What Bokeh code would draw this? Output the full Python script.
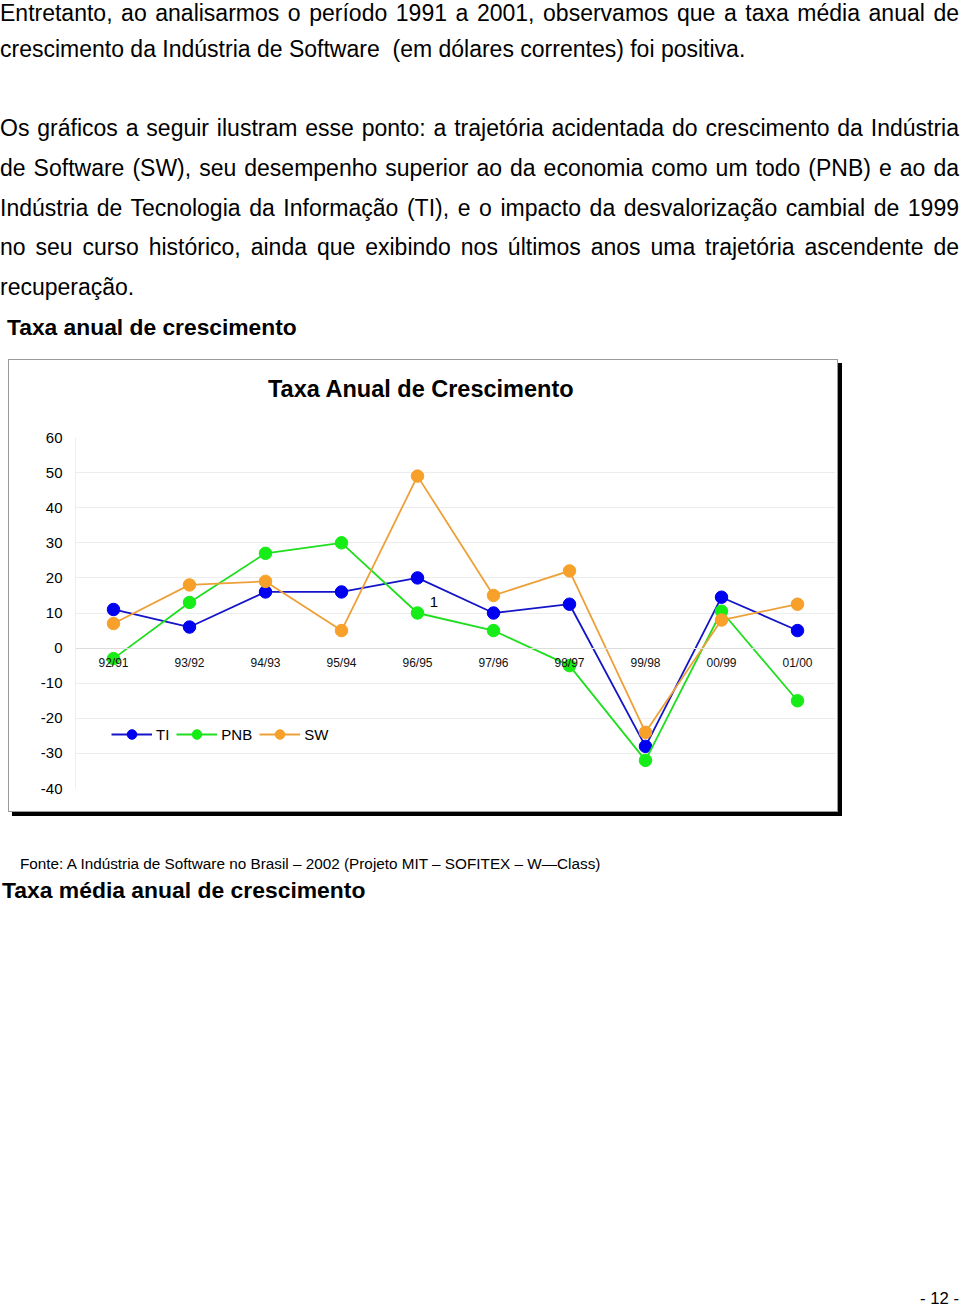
from bokeh.plotting import figure
from bokeh.models import Div, Label
from bokeh.layouts import column
from bokeh.embed import file_html
from bokeh.resources import INLINE

# ---------------- data ----------------
categories = ["92/91", "93/92", "94/93", "95/94", "96/95",
              "97/96", "98/97", "99/98", "00/99", "01/00"]
ti = [11, 6, 16, 16, 20, 10, 12.5, -28, 14.5, 5]
pnb = [-3, 13, 27, 30, 10, 5, -5, -32, 10.5, -15]
sw = [7, 18, 19, 5, 49, 15, 22, -24, 8, 12.5]
y_ticks = [-40, -30, -20, -10, 0, 10, 20, 30, 40, 50, 60]
y_tick_labels = ["-40", "-30", "-20", "-10", "0", "10", "20", "30", "40", "50", "60"]

series_names = ["TI", "PNB", "SW"]
line_colors = ["#1414c8", "#1ede1e", "#eea038"]
marker_colors = ["#0000f0", "#16ec16", "#f7a02a"]

chart_title = "Taxa Anual de Crescimento"
stray_label = "1"

para_lines = [
    ("Entretanto, ao analisarmos o período 1991 a 2001, observamos que a taxa média anual de", True),
    ("crescimento da Indústria de Software&nbsp; (em dólares correntes) foi positiva.", False),
    ("Os gráficos a seguir ilustram esse ponto: a trajetória acidentada do crescimento da Indústria", True),
    ("de Software (SW), seu desempenho superior ao da economia como um todo (PNB) e ao da", True),
    ("Indústria de Tecnologia da Informação (TI), e o impacto da desvalorização cambial de 1999", True),
    ("no seu curso histórico, ainda que exibindo nos últimos anos uma trajetória ascendente de", True),
    ("recuperação.", False),
]
para_baselines = [21.0, 57.3, 136.7, 176.4, 216.1, 255.8, 295.5]
heading1 = "Taxa anual de crescimento"
source_text = "Fonte: A Indústria de Software no Brasil – 2002 (Projeto MIT – SOFITEX – W—Class)"
heading2 = "Taxa média anual de crescimento"
page_number = "- 12 -"

FONT = "'Liberation Sans', Arial, sans-serif"


def abs_line(text, baseline, fs, left=0, width=959, justify=False, bold=False, align="left"):
    top = baseline - 0.8465 * fs
    style = (f"position:absolute;left:{left}px;top:{top:.2f}px;width:{width}px;"
             f"font-family:{FONT};font-size:{fs}px;line-height:{fs}px;color:#000;"
             f"font-weight:{'bold' if bold else 'normal'};margin:0;padding:0;")
    if justify:
        style += "text-align:justify;text-align-last:justify;"
    else:
        style += f"text-align:{align};"
    return f'<div style="{style}">{text}</div>'


def block(parts, w, h):
    return (f'<div style="position:relative;width:{w}px;height:{h}px;margin:0;padding:0;">'
            + "".join(parts) + "</div>")


# ---------------- top text ----------------
top_parts = []
for (txt, just), b in zip(para_lines, para_baselines):
    top_parts.append(abs_line(txt, b, 23, left=0, width=959, justify=just))
top_parts.append(abs_line(heading1, 335.0, 22.8, left=7, width=900, bold=True))
top_div = Div(text=block(top_parts, 960, 352), width=960, height=352, margin=0)

# ---------------- chart box: title strip + figure ----------------
title_div = Div(text=block([abs_line(chart_title, 37.4, 23.5, left=259, width=560, bold=True)], 828, 67),
                width=828, height=67, margin=0)

p = figure(x_range=categories, y_range=(-40, 60), width=828, height=384,
           output_backend="svg", toolbar_location=None,
           min_border_left=66, min_border_right=2, min_border_top=10, min_border_bottom=23,
           margin=0)
p.title.visible = False
p.outline_line_color = None
p.background_fill_color = "white"
p.border_fill_color = "white"

for name, vals, lc, mc in zip(series_names, [ti, pnb, sw], line_colors, marker_colors):
    p.line(categories, vals, line_color=lc, line_width=1.8, legend_label=name)
    p.scatter(categories, vals, size=12.5, fill_color=mc, line_color=mc, legend_label=name)

# y axis
p.yaxis.ticker = y_ticks
p.yaxis.major_label_overrides = dict(zip(y_ticks, y_tick_labels))
p.yaxis.axis_line_color = "#eeeeee"
p.yaxis.major_tick_line_color = None
p.yaxis.minor_tick_line_color = None
p.yaxis.major_label_standoff = 7
p.yaxis.major_label_text_font = "Liberation Sans"
p.yaxis.major_label_text_font_size = "15px"
p.yaxis.major_label_text_color = "#000000"

# x axis on zero line
p.xaxis.fixed_location = 0
p.xaxis.axis_line_color = "#dcdcdc"
p.xaxis.major_tick_line_color = None
p.xaxis.minor_tick_line_color = None
p.xaxis.major_label_standoff = 2
p.xaxis.major_label_text_font = "Liberation Sans"
p.xaxis.major_label_text_font_size = "12px"
p.xaxis.major_label_text_color = "#111111"

p.xgrid.grid_line_color = None
p.ygrid.grid_line_color = "#ececec"
p.ygrid.ticker = y_ticks

# legend
lg = p.legend[0]
lg.location = (36, 42)
lg.orientation = "horizontal"
lg.border_line_color = None
lg.background_fill_alpha = 0
lg.padding = 0
lg.margin = 0
lg.spacing = 7
lg.label_standoff = 4
lg.label_width = 1
lg.glyph_width = 41
lg.glyph_height = 24
lg.label_height = 20
lg.label_text_font = "Liberation Sans"
lg.label_text_font_size = "15px"
lg.label_text_color = "#000000"

# stray label (screen units relative to the frame)
p.add_layout(Label(x=358.5, y=186.3, x_units="screen", y_units="screen", text=stray_label,
                   text_align="center", text_baseline="alphabetic",
                   text_font="Liberation Sans", text_font_size="15px", text_color="#000000"))

box = column(title_div, p, spacing=0, margin=(8, 0, 0, 9), width=828, height=451,
             styles={"outline": "1px solid #9a9a9a", "box-shadow": "4px 4px 0px 1px #000000",
                     "background-color": "#ffffff"})

# ---------------- bottom text ----------------
bot_parts = [
    abs_line(source_text, 57.5, 15.3, left=20, width=900),
    abs_line(heading2, 87.0, 22.9, left=2, width=900, bold=True),
    abs_line(page_number, 494.0, 16.7, left=600, width=359, align="right"),
]
bot_div = Div(text=block(bot_parts, 960, 495), width=960, height=495, margin=0)

layout = column(top_div, box, bot_div, spacing=0)

with open("out.html", "w", encoding="utf-8") as f:
    f.write(file_html(layout, INLINE))
